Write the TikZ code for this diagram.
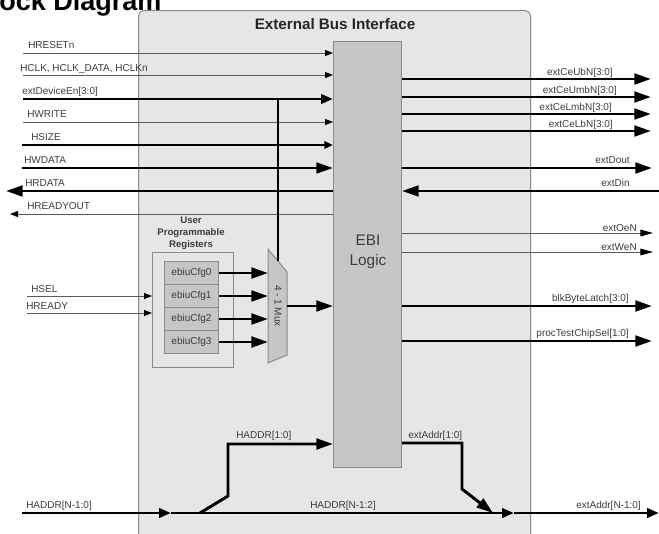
\documentclass[tikz,border=0pt]{standalone}
\usepackage{fontspec}
\setmainfont{Liberation Sans}
\usetikzlibrary{arrows.meta,calc}
\definecolor{bgbox}{HTML}{E6E6E6}
\definecolor{ebifill}{HTML}{C7C5C7}
\definecolor{edgegray}{HTML}{8A8A8A}
\definecolor{txtgray}{HTML}{3C3C3C}
\definecolor{thingray}{HTML}{5A5A5A}
\begin{document}
\begin{tikzpicture}[x=0.75pt,y=-0.75pt,
  lbl/.style={font=\fontsize{7.5}{9}\selectfont, text=txtgray, inner sep=0pt},
  thinsig/.style={draw=thingray, line width=0.75pt, -{Triangle[length=6pt,width=4.5pt,color=black]}},
  thinsigR/.style={draw=thingray, line width=0.75pt, -{Triangle[length=9.5pt,width=5pt,color=black]}},
  thicksig/.style={draw=black, line width=2.2pt, -{Triangle[length=12.5pt,width=8pt]}},
  medsig/.style={draw=black, line width=2.2pt, -{Triangle[length=9pt,width=7pt]}},
  hsizesig/.style={draw=black, line width=1.8pt, -{Triangle[length=6.5pt,width=5.5pt]}},
  bus/.style={draw=black, line width=2.2pt},
  cell/.style={draw=edgegray, fill=ebifill, line width=0.75pt, minimum width=40.5pt, minimum height=17.25pt, inner sep=0pt, anchor=north west, font=\fontsize{7.5}{9}\selectfont, text=txtgray},
]
\useasboundingbox (0,0) rectangle (659,533);
\clip (0,0) rectangle (659,533);

% title (cut off at the top)
\node[font=\bfseries\fontsize{20.25}{24}\selectfont, anchor=base west, inner sep=0pt] (title) at (-1,10) {ock Diagram};

% outer block
\node[draw=edgegray, fill=bgbox, rounded corners=4pt, line width=0.75pt, minimum width=294pt, minimum height=401pt, anchor=north west, inner sep=0pt] (ebiu) at (138,10) {};
\node[font=\bfseries\fontsize{11.4}{13}\selectfont, text=black!85, anchor=base] (ebiutitle) at (335,29) {External Bus Interface};

% EBI logic
\node[draw=edgegray, fill=ebifill, line width=0.75pt, minimum width=51pt, minimum height=319.5pt, anchor=north west, inner sep=0pt] (ebi) at (333,41) {};
\node[font=\fontsize{11.5}{15}\selectfont, text=txtgray, align=center] (ebilabel) at (368,252) {EBI\\Logic};

% left inputs
\coordinate (hreset) at (23,53);
\coordinate (hclk) at (23,75);
\coordinate (devEn) at (23,99);
\coordinate (hwrite) at (23,122);
\coordinate (hsize) at (22,145);
\coordinate (hwdata) at (22,168);
\coordinate (hrdata) at (6,191);
\coordinate (hreadyout) at (10,214);

\draw[thinsig] (hreset) -- (hreset -| ebi.west);
\draw[thinsig] (hclk) -- (hclk -| ebi.west);
\draw[medsig] (devEn) -- (devEn -| ebi.west);
\draw[thinsig] (hwrite) -- (hwrite -| ebi.west);
\draw[hsizesig] (hsize) -- (hsize -| ebi.west);
\draw[thicksig] (hwdata) -- (hwdata -| ebi.west);
\draw[thicksig] (hrdata -| ebi.west) -- (hrdata);
\draw[thinsig] (hreadyout -| ebi.west) -- (hreadyout);

\node[lbl, anchor=base west] (lhreset) at (28,48) {HRESETn};
\node[lbl, anchor=base west] (lhclk) at (20,71) {HCLK, HCLK\_DATA, HCLKn};
\node[lbl, anchor=base west] (ldev) at (22,94.5) {extDeviceEn[3:0]};
\node[lbl, anchor=base west] (lhwrite) at (27,117.5) {HWRITE};
\node[lbl, anchor=base west] (lhsize) at (31,140.5) {HSIZE};
\node[lbl, anchor=base west] (lhwdata) at (24,163.5) {HWDATA};
\node[lbl, anchor=base west] (lhrdata) at (25,186.5) {HRDATA};
\node[lbl, anchor=base west] (lhreadyout) at (27,209.5) {HREADYOUT};

% right outputs
\coordinate (ceub) at (651,79);
\coordinate (ceumb) at (651,97);
\coordinate (celmb) at (651,114);
\coordinate (celb) at (651,131);
\coordinate (dout) at (652,168);
\coordinate (din) at (659,191);
\coordinate (oen) at (653,233);
\coordinate (wen) at (653,252);
\coordinate (blk) at (652,306);
\coordinate (ptcs) at (652,341);

\draw[thicksig] (ceub -| ebi.east) -- (ceub);
\draw[thicksig] (ceumb -| ebi.east) -- (ceumb);
\draw[thicksig] (celmb -| ebi.east) -- (celmb);
\draw[thicksig] (celb -| ebi.east) -- (celb);
\draw[thicksig] (dout -| ebi.east) -- (dout);
\draw[thicksig] (din) -- (din -| ebi.east);
\draw[thinsigR] (oen -| ebi.east) -- (oen);
\draw[thinsigR] (wen -| ebi.east) -- (wen);
\draw[thicksig] (blk -| ebi.east) -- (blk);
\draw[thicksig] (ptcs -| ebi.east) -- (ptcs);

\node[lbl, anchor=base east] (lceub) at (613,75.5) {extCeUbN[3:0]};
\node[lbl, anchor=base east] (lceumb) at (617,93.5) {extCeUmbN[3:0]};
\node[lbl, anchor=base east] (lcelmb) at (612,110.5) {extCeLmbN[3:0]};
\node[lbl, anchor=base east] (lcelb) at (613,127.5) {extCeLbN[3:0]};
\node[lbl, anchor=base east] (ldout) at (630,163.5) {extDout};
\node[lbl, anchor=base east] (ldin) at (630,186.5) {extDin};
\node[lbl, anchor=base east] (loen) at (637,231) {extOeN};
\node[lbl, anchor=base east] (lwen) at (637,250) {extWeN};
\node[lbl, anchor=base east] (lblk) at (629,301.5) {blkByteLatch[3:0]};
\node[lbl, anchor=base east] (lptcs) at (629,336.5) {procTestChipSel[1:0]};

% user programmable registers
\node[draw=edgegray, line width=0.75pt, minimum width=60.75pt, minimum height=86.25pt, anchor=north west, inner sep=0pt] (regs) at (152,252) {};
\node[font=\bfseries\fontsize{7.2}{9}\selectfont, text=txtgray, align=center] (regstitle) at (191,233) {User\\Programmable\\Registers};
\node[cell] (cfg0) at (164,261) {ebiuCfg0};
\node[cell] (cfg1) at (164,284) {ebiuCfg1};
\node[cell] (cfg2) at (164,307) {ebiuCfg2};
\node[cell] (cfg3) at (164,330) {ebiuCfg3};

\coordinate (hsel) at (27,296);
\coordinate (hready) at (27,313);
\draw[thinsig] (hsel) -- (hsel -| regs.west);
\draw[thinsig] (hready) -- (hready -| regs.west);
\node[lbl, anchor=base west] (lhsel) at (31,292) {HSEL};
\node[lbl, anchor=base west] (lhready) at (26,309) {HREADY};

% mux
\coordinate (m1) at (268,249);
\coordinate (m2) at (287,272);
\coordinate (m3) at (287,355);
\coordinate (m4) at (268,363);
\draw[draw=edgegray, fill=ebifill, line width=0.75pt] (m1) -- (m2) -- (m3) -- (m4) -- cycle;
\node[lbl, rotate=-90] (muxlbl) at (278,306) {4 - 1 Mux};
\draw[thicksig] (cfg0.east) -- (cfg0.east -| m1);
\draw[thicksig] (cfg1.east) -- (cfg1.east -| m1);
\draw[thicksig] (cfg2.east) -- (cfg2.east -| m1);
\draw[thicksig] (cfg3.east) -- (cfg3.east -| m1);
\coordinate (seltap) at (278,99);
\coordinate (msel) at (278,261);
\draw[bus] (seltap) -- (msel);
\coordinate (muxout) at (287,306);
\draw[thicksig] (muxout) -- (muxout -| ebi.west);

% address paths
\coordinate (haddrin) at (22,513);
\coordinate (haddrA) at (171,513);
\coordinate (haddrB) at (514,513);
\coordinate (haddrC) at (659,513);
\coordinate (brk) at (200,513);
\coordinate (brk2) at (228,496);
\coordinate (brk3) at (228,444);
\draw[medsig] (haddrin) -- (haddrA);
\draw[medsig] (haddrA) -- (haddrB);
\draw[medsig] (haddrB) -- (haddrC);
\draw[thicksig] (brk) -- (brk2) -- (brk3) -- (brk3 -| ebi.west);
\coordinate (ea1) at (462,443);
\coordinate (ea2) at (462,489);
\coordinate (ea3) at (493,513);
\draw[thicksig] (ea1 -| ebi.east) -- (ea1) -- (ea2) -- (ea3);

\node[lbl, anchor=base west] (lhaddr) at (26,508.5) {HADDR[N-1:0]};
\node[lbl, anchor=base west] (lhaddr2) at (310,508.5) {HADDR[N-1:2]};
\node[lbl, anchor=base west] (lextaddr) at (576,508.5) {extAddr[N-1:0]};
\node[lbl, anchor=base west] (lhaddr10) at (236,438.5) {HADDR[1:0]};
\node[lbl, anchor=base west] (lextaddr10) at (408,438) {extAddr[1:0]};
\end{tikzpicture}
\end{document}
